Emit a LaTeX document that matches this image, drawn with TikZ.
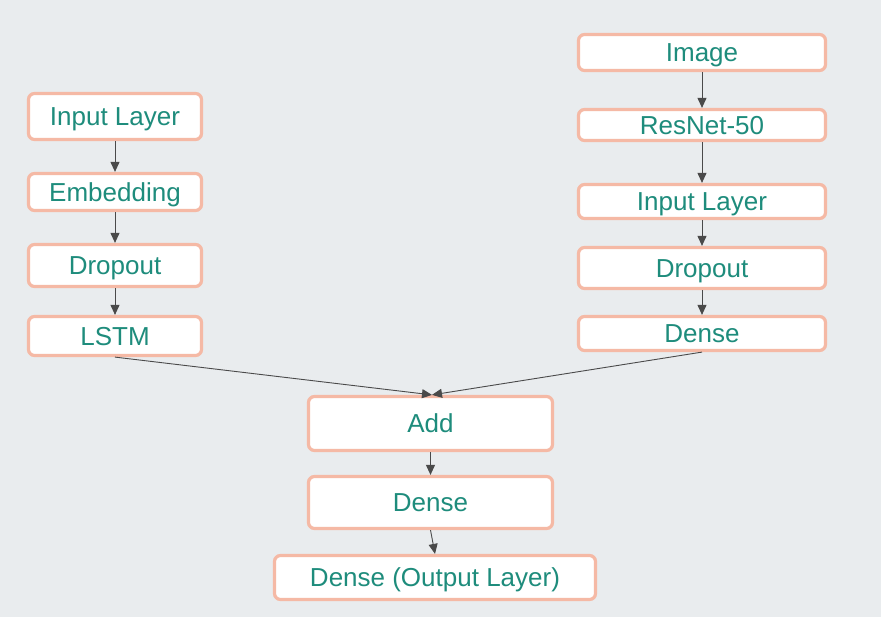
\documentclass[tikz,border=0pt]{standalone}
\usepackage{fontspec}
\setmainfont{Liberation Sans}
\usetikzlibrary{arrows.meta}
\definecolor{bgc}{HTML}{E9ECEE}
\definecolor{bordc}{HTML}{F5B9A5}
\definecolor{txtc}{HTML}{1E8C7C}
\definecolor{arrc}{HTML}{4A4A4A}
\begin{document}
\begin{tikzpicture}[x=1pt,y=-1pt,
  box/.style={draw=bordc, fill=white, line width=3.2pt, rounded corners=6pt,
    inner sep=0pt, text=txtc, text height=18.5pt, text depth=0pt,
    font=\fontsize{26}{29}\selectfont},
  conn/.style={draw=arrc, line width=0.9pt, -{Triangle[length=10pt,width=9pt]}}]
\fill[bgc] (0,0) rectangle (881,617);
\useasboundingbox (0,0) rectangle (881,617);
% left column
\node[box, minimum width=173pt, minimum height=46pt] (l1) at (115,116.5) {Input Layer};
\node[box, minimum width=173pt, minimum height=37pt] (l2) at (115,192) {Embedding};
\node[box, minimum width=173pt, minimum height=42pt] (l3) at (115,265.5) {Dropout};
\node[box, minimum width=173pt, minimum height=39pt] (l4) at (115,336) {LSTM};
% right column
\node[box, minimum width=247pt, minimum height=36pt] (r1) at (702,52.5) {Image};
\node[box, minimum width=247pt, minimum height=31pt] (r2) at (702,125) {ResNet-50};
\node[box, minimum width=247pt, minimum height=34pt] (r3) at (702,201.5) {Input Layer};
\node[box, minimum width=247pt, minimum height=41pt] (r4) at (702,268) {Dropout};
\node[box, minimum width=247pt, minimum height=34pt] (r5) at (702,333.5) {Dense};
% center
\node[box, minimum width=244pt, minimum height=54pt] (c1) at (430.5,423.5) {Add};
\node[box, minimum width=244pt, minimum height=52pt] (c2) at (430.5,502.5) {Dense};
\node[box, minimum width=321pt, minimum height=44pt] (c3) at (435,577.5) {Dense (Output Layer)};
% connectors
\draw[conn] (l1) -- (l2);
\draw[conn] (l2) -- (l3);
\draw[conn] (l3) -- (l4);
\draw[conn] (r1) -- (r2);
\draw[conn] (r2) -- (r3);
\draw[conn] (r3) -- (r4);
\draw[conn] (r4) -- (r5);
\draw[conn] (l4.south) -- ([xshift=1.5pt]c1.north);
\draw[conn] (r5.south) -- ([xshift=1.5pt]c1.north);
\draw[conn] (c1) -- (c2);
\draw[conn] (c2.south) -- (c3.north);
\end{tikzpicture}
\end{document}
